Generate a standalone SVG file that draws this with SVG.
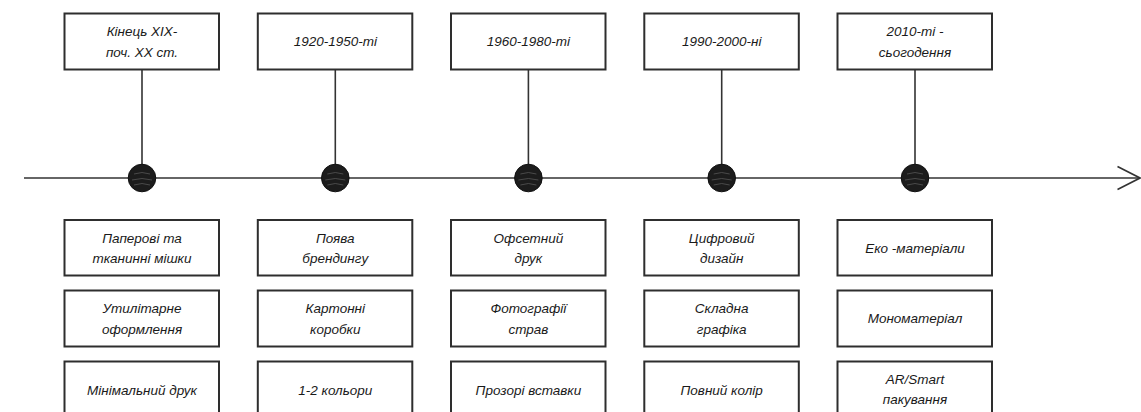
<svg xmlns="http://www.w3.org/2000/svg" width="1141" height="412" viewBox="0 0 1141 412">
<style>
.box{fill:#fff;stroke:#2e2e2e;stroke-width:2}
.ln{stroke:#333;stroke-width:1.6;fill:none}
.dot{fill:#1c1c1c;stroke:#111;stroke-width:1}
.hatch{stroke:#555;stroke-width:0.8;fill:none}
text{font-family:"Liberation Sans",Arial,sans-serif;font-style:italic;font-size:13.5px;fill:#1a1a1a;text-anchor:middle}
</style>
<rect width="1141" height="412" fill="#fff"/>
<g id="connectors">
<line class="ln" x1="24" y1="178" x2="1140" y2="178"/>
<polyline class="ln" points="1117.5,166.5 1140,178 1117.5,189.5"/>
<line class="ln" x1="142" y1="70" x2="142" y2="178"/>
<line class="ln" x1="335.3" y1="70" x2="335.3" y2="178"/>
<line class="ln" x1="528.4" y1="70" x2="528.4" y2="178"/>
<line class="ln" x1="721.7" y1="70" x2="721.7" y2="178"/>
<line class="ln" x1="915" y1="70" x2="915" y2="178"/>
</g>
<defs>
<g id="dotg">
<circle class="dot" cx="0" cy="0" r="13.8"/>
<path class="hatch" d="M-8,-4 Q0,-7 8,-4 M-10,2 Q0,-1 10,2 M-8,7 Q0,4 8,7"/>
</g>
</defs>
<g id="dots">
<use href="#dotg" x="142" y="178"/>
<use href="#dotg" x="335.3" y="178"/>
<use href="#dotg" x="528.4" y="178"/>
<use href="#dotg" x="721.7" y="178"/>
<use href="#dotg" x="915" y="178"/>
</g>
<g id="era1"><rect class="box" x="64.5" y="13.5" width="154.5" height="56"/><text x="142" y="36">Кінець XIX-</text><text x="142" y="57">поч. XX ст.</text></g>
<g id="era2"><rect class="box" x="257.8" y="13.5" width="154.5" height="56"/><text x="335.3" y="46">1920-1950-ті</text></g>
<g id="era3"><rect class="box" x="451" y="13.5" width="154.5" height="56"/><text x="528.4" y="46">1960-1980-ті</text></g>
<g id="era4"><rect class="box" x="644.3" y="13.5" width="154.5" height="56"/><text x="721.7" y="46">1990-2000-ні</text></g>
<g id="era5"><rect class="box" x="837.5" y="13.5" width="154.5" height="56"/><text x="915" y="36">2010-ті -</text><text x="915" y="57">сьогодення</text></g>

<g id="c1r1"><rect class="box" x="64.5" y="220" width="154.5" height="55.5"/><text x="142" y="243">Паперові та</text><text x="142" y="263">тканинні мішки</text></g>
<g id="c1r2"><rect class="box" x="64.5" y="290.5" width="154.5" height="56"/><text x="142" y="313">Утилітарне</text><text x="142" y="334">оформлення</text></g>
<g id="c1r3"><rect class="box" x="64.5" y="361.5" width="154.5" height="56"/><text x="142" y="395">Мінімальний друк</text></g>

<g id="c2r1"><rect class="box" x="257.8" y="220" width="154.5" height="55.5"/><text x="335.3" y="243">Поява</text><text x="335.3" y="263">брендингу</text></g>
<g id="c2r2"><rect class="box" x="257.8" y="290.5" width="154.5" height="56"/><text x="335.3" y="313">Картонні</text><text x="335.3" y="334">коробки</text></g>
<g id="c2r3"><rect class="box" x="257.8" y="361.5" width="154.5" height="56"/><text x="335.3" y="395">1-2 кольори</text></g>

<g id="c3r1"><rect class="box" x="451" y="220" width="154.5" height="55.5"/><text x="528.4" y="243">Офсетний</text><text x="528.4" y="263">друк</text></g>
<g id="c3r2"><rect class="box" x="451" y="290.5" width="154.5" height="56"/><text x="528.4" y="313">Фотографії</text><text x="528.4" y="334">страв</text></g>
<g id="c3r3"><rect class="box" x="451" y="361.5" width="154.5" height="56"/><text x="528.4" y="395">Прозорі вставки</text></g>

<g id="c4r1"><rect class="box" x="644.3" y="220" width="154.5" height="55.5"/><text x="721.7" y="243">Цифровий</text><text x="721.7" y="263">дизайн</text></g>
<g id="c4r2"><rect class="box" x="644.3" y="290.5" width="154.5" height="56"/><text x="721.7" y="313">Складна</text><text x="721.7" y="334">графіка</text></g>
<g id="c4r3"><rect class="box" x="644.3" y="361.5" width="154.5" height="56"/><text x="721.7" y="395">Повний колір</text></g>

<g id="c5r1"><rect class="box" x="837.5" y="220" width="154.5" height="55.5"/><text x="915" y="253">Еко -матеріали</text></g>
<g id="c5r2"><rect class="box" x="837.5" y="290.5" width="154.5" height="56"/><text x="915" y="323">Мономатеріал</text></g>
<g id="c5r3"><rect class="box" x="837.5" y="361.5" width="154.5" height="56"/><text x="915" y="384">AR/Smart</text><text x="915" y="404">пакування</text></g>
</svg>
